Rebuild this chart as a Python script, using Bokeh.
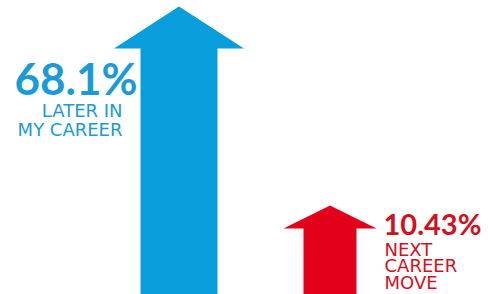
from bokeh.plotting import figure
from bokeh.models import Range1d
from bokeh.core.properties import value
from bokeh.embed import file_html
from bokeh.resources import INLINE

# ---- data ----
labels = ["LATER IN\nMY CAREER", "NEXT\nCAREER\nMOVE"]
percents = ["68.1%", "10.43%"]
colors = ["#0a9ddc", "#e2001a"]
text_colors = ["#1a9bd7", "#d2101e"]
# arrow geometry (px units of the drawing area)
center_x = [178.5, 329.5]
tip_y = [288, 89]
shaft_w = [77, 53]
head_w = [130, 93]
head_len = [42, 23]

W, H = 488, 294
p = figure(width=W, height=H, output_backend="svg", toolbar_location=None,
           x_range=Range1d(0, W), y_range=Range1d(0, H), min_border=0,
           background_fill_color="white", border_fill_color="white")
p.axis.visible = False
p.grid.visible = False
p.outline_line_color = None

xs, ys = [], []
for cx, t, sw, hw, hl in zip(center_x, tip_y, shaft_w, head_w, head_len):
    base = t - hl
    xs.append([cx - sw / 2, cx - sw / 2, cx - hw / 2, cx, cx + hw / 2, cx + sw / 2, cx + sw / 2])
    ys.append([-5, base, base, t, base, base, -5])
p.patches(xs=xs, ys=ys, fill_color=colors, line_color=None)

# blue labels
p.text(x=[137], y=[217], text=[percents[0]], text_font=value("Lato"), text_font_style="bold",
       text_font_size="44px", text_color=text_colors[0], text_align="right", text_baseline="alphabetic")
blue_lines = labels[0].split("\n")
p.text(x=[122, 122], y=[184, 165], text=blue_lines, text_font=value("DejaVu Sans"),
       text_font_size="18px", text_color=text_colors[0], text_align="right", text_baseline="alphabetic")

# red labels
p.text(x=[383], y=[71], text=[percents[1]], text_font=value("Lato"), text_font_style="bold",
       text_font_size="29px", text_color=text_colors[1], text_align="left", text_baseline="alphabetic")
red_lines = labels[1].split("\n")
p.text(x=[384, 384, 384], y=[45, 29, 12], text=red_lines, text_font=value("DejaVu Sans"),
       text_font_size="18px", text_color=text_colors[1], text_align="left", text_baseline="alphabetic")

open("out.html", "w").write(file_html(p, INLINE))
